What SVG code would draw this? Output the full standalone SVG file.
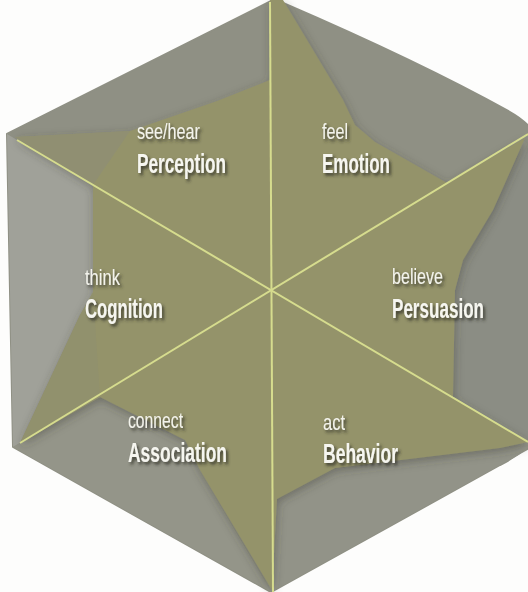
<svg xmlns="http://www.w3.org/2000/svg" width="528" height="592" viewBox="0 0 528 592">
<defs>
<filter id="tshadow" x="-20%" y="-30%" width="140%" height="170%">
<feDropShadow dx="2" dy="2.5" stdDeviation="1.6" flood-color="#2e2e28" flood-opacity="0.85"/>
</filter>
<filter id="starshadow" x="-10%" y="-10%" width="120%" height="120%">
<feDropShadow dx="1" dy="3" stdDeviation="5" flood-color="#3a3a30" flood-opacity="0.4"/>
</filter>
<style>
.small{font-family:"Liberation Sans Narrow","Liberation Sans","DejaVu Sans Condensed",sans-serif;font-size:22px;fill:#f3f3ec;filter:url(#tshadow)}
.big{font-family:"Liberation Sans Narrow","Liberation Sans","DejaVu Sans Condensed",sans-serif;font-size:27px;font-weight:bold;fill:#f6f6f0;filter:url(#tshadow)}
.axis{stroke:#d6dc8e;stroke-width:2;fill:none}
</style>
</defs>
<rect width="528" height="592" fill="#fdfdfc"/>
<g id="hexagon">
<path d="M275,-1 L283,3 Q420,62 510,112 Q528,122 535,135 L535,440 Q520,455 500,465 L271,592 L13,447 L7,134 Z" fill="#8f9084" stroke="#8f9084" stroke-width="2" stroke-linejoin="round"/>
<polygon points="7,134 93,185 93,295 80,315 20,443 13,447" fill="#a0a199"/>
<polygon points="455,290 460,270 495,205 527,145 535,140 535,440 528,442 453,397" fill="#8b8d84"/>
<polygon points="271,592 277,499 335,468 500,448 535,446 500,465" fill="#929388"/>
<polygon points="271,592 200,470 185,440 100,397 20,443 13,447" fill="#949589"/>
</g>
<g id="star" filter="url(#starshadow)">
<polygon points="270,80 270,0 283,0 343,100 355,125 375,142 447,183 525,138 493,210 463,260 455,290 453,397 528,442 500,448 335,468 277,499 272,590 200,470 185,440 100,397 20,443 80,315 93,292 93,185 15,137 130,131 217,101" fill="#94936a"/>
</g>
<g id="star-shade">
<polygon points="15,137 93,185 130,131" fill="#8f8f74" opacity="0.8"/>
<polygon points="20,443 80,315 93,292 100,397" fill="#8f8f70" opacity="0.6"/>
</g>
<g id="connectors">
<line class="axis" x1="270" y1="2" x2="273" y2="592"/>
<line class="axis" x1="17" y1="140" x2="528" y2="442"/>
<line class="axis" x1="20" y1="443" x2="528" y2="134"/>
</g>
<g id="perception">
<text class="small" x="137" y="139" textLength="63" lengthAdjust="spacingAndGlyphs">see/hear</text>
<text class="big" x="137" y="173" textLength="89" lengthAdjust="spacingAndGlyphs">Perception</text>
</g>
<g id="emotion">
<text class="small" x="322" y="139" textLength="26" lengthAdjust="spacingAndGlyphs">feel</text>
<text class="big" x="322" y="173" textLength="68" lengthAdjust="spacingAndGlyphs">Emotion</text>
</g>
<g id="cognition">
<text class="small" x="85" y="285" textLength="35" lengthAdjust="spacingAndGlyphs">think</text>
<text class="big" x="85" y="318" textLength="78" lengthAdjust="spacingAndGlyphs">Cognition</text>
</g>
<g id="persuasion">
<text class="small" x="392" y="284" textLength="51" lengthAdjust="spacingAndGlyphs">believe</text>
<text class="big" x="392" y="318" textLength="92" lengthAdjust="spacingAndGlyphs">Persuasion</text>
</g>
<g id="association">
<text class="small" x="128" y="428" textLength="55" lengthAdjust="spacingAndGlyphs">connect</text>
<text class="big" x="128" y="462" textLength="99" lengthAdjust="spacingAndGlyphs">Association</text>
</g>
<g id="behavior">
<text class="small" x="323" y="430" textLength="22" lengthAdjust="spacingAndGlyphs">act</text>
<text class="big" x="323" y="463" textLength="75" lengthAdjust="spacingAndGlyphs">Behavior</text>
</g>
</svg>
